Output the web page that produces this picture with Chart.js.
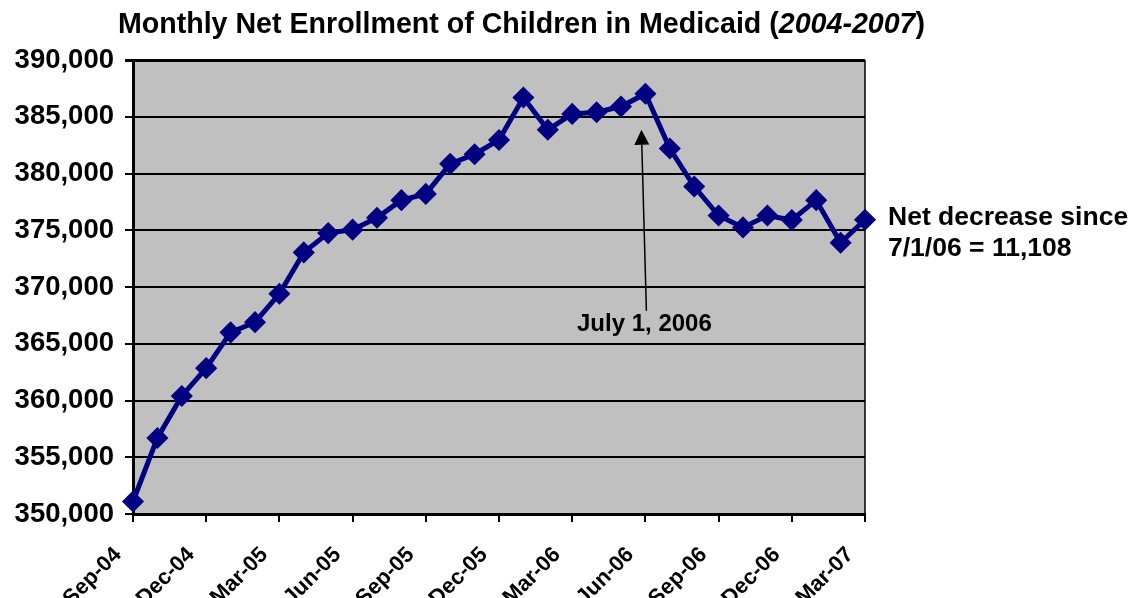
<!DOCTYPE html>
<html>
<head>
<meta charset="utf-8">
<script src="https://cdn.jsdelivr.net/npm/chart.js@4.4.1/dist/chart.umd.min.js"></script>
<style>
  html, body { margin: 0; padding: 0; background: #fff; overflow: hidden; }
  #wrap { position: relative; width: 1129px; height: 598px; }
  #c { position: absolute; left: 0; top: 0; }
  #title { position: absolute; left: 0; top: 7px; width: 1043px; text-align: center;
           font: bold 28.6px "Liberation Sans", Arial, sans-serif; line-height: 32px;
           color: #000; white-space: nowrap; }
</style>
</head>
<body>
<div id="wrap">
  <canvas id="c" width="1129" height="598"></canvas>
  <div id="title">Monthly Net Enrollment of Children in Medicaid (<i>2004-2007</i>)</div>
</div>
<script>
// ---- data ----
const months = ['Sep-04','Oct-04','Nov-04','Dec-04','Jan-05','Feb-05','Mar-05','Apr-05','May-05','Jun-05',
                'Jul-05','Aug-05','Sep-05','Oct-05','Nov-05','Dec-05','Jan-06','Feb-06','Mar-06','Apr-06',
                'May-06','Jun-06','Jul-06','Aug-06','Sep-06','Oct-06','Nov-06','Dec-06','Jan-07','Feb-07','Mar-07'];
const enrollment = [351100, 356700, 360400, 362850, 366000, 366900, 369400, 373050, 374750, 375050,
                    376100, 377650, 378200, 380850, 381700, 382950, 386700, 383850, 385250, 385400,
                    385900, 387030, 382200, 378850, 376300, 375250, 376300, 375900, 377650, 373900, 375922];
const tickLabels = ['Sep-04','Dec-04','Mar-05','Jun-05','Sep-05','Dec-05','Mar-06','Jun-06','Sep-06','Dec-06','Mar-07'];
const yMin = 350000, yMax = 390000, yStep = 5000;
const arrowLabel = 'July 1, 2006';
const arrowMonth = 'Jun-06';
const noteLines = ['Net decrease since', '7/1/06 = 11,108'];

// ---- helpers ----
const FONT = '"Liberation Sans", Arial, Helvetica, sans-serif';
const fmt = v => String(v).replace(/\B(?=(\d{3})+(?!\d))/g, ',');

const plotBg = {
  id: 'plotBg',
  beforeDraw(chart) {
    const { ctx, chartArea: a } = chart;
    ctx.save();
    ctx.fillStyle = '#C0C0C0';
    ctx.fillRect(a.left, a.top, a.right - a.left, a.bottom - a.top);
    ctx.restore();
  },
  beforeDatasetsDraw(chart) {
    const { ctx, chartArea: a } = chart;
    ctx.save();
    ctx.strokeStyle = '#000';
    ctx.lineWidth = 1.5;
    ctx.beginPath();
    ctx.moveTo(a.right, a.top);
    ctx.lineTo(a.right, a.bottom);
    ctx.stroke();
    ctx.restore();
  }
};

const notes = {
  id: 'notes',
  afterDatasetsDraw(chart) {
    const { ctx, chartArea: a } = chart;
    const x = chart.scales.x, y = chart.scales.y;
    const px = x.getPixelForValue(months.indexOf(arrowMonth));
    ctx.save();
    // arrow
    const x0 = px + 1, y0 = y.getPixelForValue(367900);
    const x1 = px - 4, y1 = y.getPixelForValue(383850);
    ctx.strokeStyle = '#000';
    ctx.fillStyle = '#000';
    ctx.lineWidth = 1.5;
    const ang = Math.atan2(y1 - y0, x1 - x0);
    const headLen = 15, headW = 7.5;
    const bx = x1 - headLen * Math.cos(ang), by = y1 - headLen * Math.sin(ang);
    ctx.beginPath();
    ctx.moveTo(x0, y0);
    ctx.lineTo(bx, by);
    ctx.stroke();
    ctx.beginPath();
    ctx.moveTo(x1, y1);
    ctx.lineTo(bx + headW * Math.sin(ang), by - headW * Math.cos(ang));
    ctx.lineTo(bx - headW * Math.sin(ang), by + headW * Math.cos(ang));
    ctx.closePath();
    ctx.fill();
    // arrow label
    ctx.font = 'bold 24px ' + FONT;
    ctx.textAlign = 'center';
    ctx.textBaseline = 'alphabetic';
    ctx.fillText(arrowLabel, px - 1, y.getPixelForValue(366080));
    // side note
    ctx.font = 'bold 26.5px ' + FONT;
    ctx.textAlign = 'left';
    ctx.fillText(noteLines[0], a.right + 23, y.getPixelForValue(375480));
    ctx.fillText(noteLines[1], a.right + 23, y.getPixelForValue(372750));
    ctx.restore();
  }
};

new Chart(document.getElementById('c'), {
  type: 'line',
  data: {
    labels: months,
    datasets: [{
      data: enrollment,
      borderColor: '#000080',
      backgroundColor: '#000080',
      borderWidth: 5,
      pointStyle: 'rectRot',
      pointRadius: 10,
      pointBorderWidth: 1.5,
      pointBorderColor: '#000080',
      pointBackgroundColor: '#000080',
      tension: 0,
      clip: false
    }]
  },
  options: {
    responsive: false,
    devicePixelRatio: 1,
    animation: false,
    layout: { padding: { top: 60, right: 264, bottom: 0, left: 0 } },
    plugins: { legend: { display: false }, tooltip: { enabled: false }, title: { display: false } },
    scales: {
      x: {
        type: 'category',
        offset: false,
        grid: {
          drawOnChartArea: false,
          drawTicks: true,
          tickLength: 8,
          lineWidth: 2,
          color: c => tickLabels.includes(months[c.index]) ? '#000' : 'rgba(0,0,0,0)'
        },
        border: { display: true, color: '#000', width: 3 },
        ticks: {
          autoSkip: false,
          maxRotation: 45,
          minRotation: 45,
          padding: 20,
          labelOffset: -15,
          color: '#000',
          font: { family: FONT, size: 22, weight: 'bold' },
          callback: (v, i) => tickLabels.includes(months[i]) ? months[i] : ''
        },
        afterFit: s => { s.height = 84; }
      },
      y: {
        min: yMin,
        max: yMax,
        grid: {
          color: '#000',
          lineWidth: c => (c.tick && c.tick.value === yMax) ? 3 : 2,
          drawTicks: true,
          tickLength: 8
        },
        border: { display: true, color: '#000', width: 3 },
        ticks: {
          stepSize: yStep,
          padding: 11,
          color: '#000',
          font: { family: FONT, size: 27.5, weight: 'bold' },
          callback: v => fmt(v)
        },
        afterFit: s => { s.width = 133; }
      }
    }
  },
  plugins: [plotBg, notes]
});
</script>
</body>
</html>
